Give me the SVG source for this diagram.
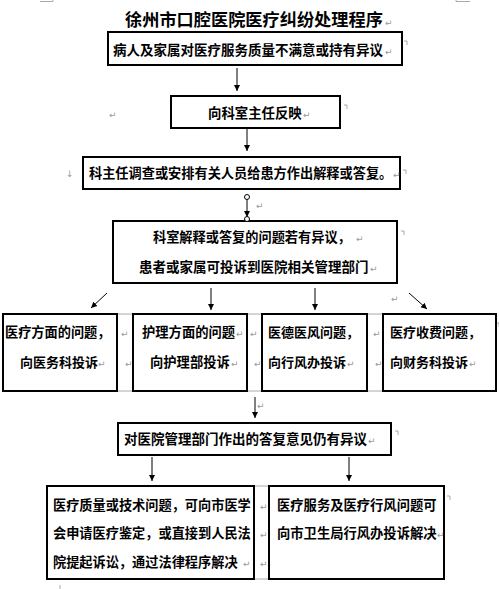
<svg xmlns="http://www.w3.org/2000/svg" width="499" height="589" viewBox="0 0 499 589">
<style>
.box{fill:#fff;stroke:#000;stroke-width:2}
.t{font-family:"Noto Sans CJK SC","Noto Sans CJK JP",sans-serif;font-weight:bold;fill:#000}
.pm{font-family:"DejaVu Sans",sans-serif;font-size:9px;fill:#999}
.ln{stroke:#000;stroke-width:1;fill:none}
.gr{stroke:#aaa;stroke-width:1;fill:none}
</style>
<defs>
<marker id="ah" viewBox="0 0 10 10" refX="10" refY="5" markerWidth="6" markerHeight="7" orient="auto" markerUnits="userSpaceOnUse">
<path d="M0,0 L10,5 L0,10 z" fill="#000"/>
</marker>
</defs>
<rect width="499" height="589" fill="#fff"/>
<g id="marks">
<polyline class="gr" points="40,1.5 53,1.5 53,0"/>
<polyline class="gr" points="456,0 456,1.5 470,1.5"/>
<polyline class="gr" points="404,41 407,41 407,45"/>
<polyline class="gr" points="344,105 347,105 347,109"/>
<polyline class="gr" points="403,170 406,170 406,174"/>
<polyline class="gr" points="401,231 404,231 404,235"/>
<polyline class="gr" points="496,323 499,323 499,327"/>
<polyline class="gr" points="395,431 398,431 398,435"/>
<polyline class="gr" points="447,496 450,496 450,500"/>
<line class="gr" x1="60" y1="585" x2="60" y2="589"/>
</g>
<g id="title"><text class="t" x="125" y="26" font-size="17.2">徐州市口腔医院医疗纠纷处理程序</text><text class="pm" x="385" y="26">↵</text></g>
<g id="n1"><rect class="box" x="108" y="32" width="294" height="33"/><text class="t" x="113" y="55" font-size="13.5">病人及家属对医疗服务质量不满意或持有异议</text><text class="pm" x="385" y="55">↵</text></g>
<g id="n2"><rect class="box" x="171" y="96" width="169" height="32"/><text class="t" x="208" y="118" font-size="13.4">向科室主任反映</text><text class="pm" x="303" y="118">↵</text><text class="pm" x="109" y="118">↵</text></g>
<g id="n3"><rect class="box" x="83" y="157" width="317" height="32"/><text class="t" x="89" y="178" font-size="13.2">科主任调查或安排有关人员给患方作出解释或答复。</text><text class="pm" x="393" y="178">↵</text><text class="pm" x="66" y="177">↓</text></g>
<g id="n4"><rect class="box" x="113" y="221" width="284" height="62"/><text class="t" x="153" y="242" font-size="13.2">科室解释或答复的问题若有异议，</text><text class="pm" x="356" y="242">↵</text><text class="t" x="139" y="272" font-size="13.5">患者或家属可投诉到医院相关管理部门</text><text class="pm" x="370" y="272">↵</text></g>
<g id="row-borders">
<line class="gr" x1="117" y1="314" x2="133" y2="314"/><line class="gr" x1="117" y1="391" x2="133" y2="391"/>
<line class="gr" x1="247" y1="314" x2="262" y2="314"/><line class="gr" x1="247" y1="391" x2="262" y2="391"/>
<line class="gr" x1="367" y1="314" x2="383" y2="314"/><line class="gr" x1="367" y1="391" x2="383" y2="391"/>
<line class="gr" x1="254" y1="486" x2="269" y2="486"/><line class="gr" x1="254" y1="579" x2="269" y2="579"/>
<text class="pm" x="121" y="337">↵</text><text class="pm" x="125" y="367">↵</text>
<text class="pm" x="250" y="337">↵</text><text class="pm" x="254" y="367">↵</text>
<text class="pm" x="373" y="337">↵</text><text class="pm" x="375" y="367">↵</text>
<text class="pm" x="260" y="510">↵</text><text class="pm" x="260" y="538">↵</text><text class="pm" x="260" y="567">↵</text>
</g>
<g id="nA"><rect class="box" x="3" y="314" width="114" height="77"/><text class="t" x="5" y="337" font-size="13.2">医疗方面的问题，</text><text class="t" x="20" y="367" font-size="13">向医务科投诉</text><text class="pm" x="98" y="367">↵</text></g>
<g id="nB"><rect class="box" x="133" y="314" width="114" height="77"/><text class="t" x="142" y="337" font-size="13.3">护理方面的问题</text><text class="pm" x="236" y="337">↵</text><text class="t" x="150" y="367" font-size="13.3">向护理部投诉</text><text class="pm" x="231" y="367">↵</text></g>
<g id="nC"><rect class="box" x="262" y="314" width="105" height="77"/><text class="t" x="268" y="337" font-size="13">医德医风问题，</text><text class="t" x="268" y="367" font-size="13">向行风办投诉</text><text class="pm" x="347" y="367">↵</text></g>
<g id="nD"><rect class="box" x="383" y="314" width="113" height="77"/><text class="t" x="390" y="337" font-size="13">医疗收费问题，</text><text class="t" x="390" y="367" font-size="13">向财务科投诉</text><text class="pm" x="469" y="367">↵</text></g>
<g id="n5"><rect class="box" x="118" y="423" width="273" height="32"/><text class="t" x="124" y="444" font-size="13.5">对医院管理部门作出的答复意见仍有异议</text><text class="pm" x="368" y="444">↵</text></g>
<g id="n6"><rect class="box" x="47" y="486" width="207" height="93"/><text class="t" x="53" y="510" font-size="13.2">医疗质量或技术问题，可向市医学</text><text class="t" x="53" y="538" font-size="13.2">会申请医疗鉴定，或直接到人民法</text><text class="t" x="53" y="567" font-size="13.2">院提起诉讼，通过法律程序解决</text><text class="pm" x="243" y="567">↵</text></g>
<g id="n7"><rect class="box" x="269" y="486" width="175" height="93"/><text class="t" x="277" y="510" font-size="13.3">医疗服务及医疗行风问题可</text><text class="t" x="277" y="538" font-size="13.3">向市卫生局行风办投诉解决</text><text class="pm" x="437" y="538">↵</text></g>
<g id="connectors">
<line class="ln" x1="237" y1="68" x2="237" y2="91" marker-end="url(#ah)"/>
<line class="ln" x1="247" y1="128" x2="247" y2="151" marker-end="url(#ah)"/>
<line class="ln" x1="247" y1="199.5" x2="247" y2="217" marker-end="url(#ah)"/>
<circle cx="247" cy="197" r="2.5" fill="#fff" stroke="#000" stroke-width="1"/>
<circle cx="247" cy="219" r="2.5" fill="#fff" stroke="#000" stroke-width="1"/>
<text class="pm" x="256" y="209">↵</text>
<line class="ln" x1="107" y1="293" x2="91" y2="308" marker-end="url(#ah)"/>
<line class="ln" x1="211" y1="288" x2="211" y2="310" marker-end="url(#ah)"/>
<line class="ln" x1="315" y1="288" x2="315" y2="310" marker-end="url(#ah)"/>
<line class="ln" x1="409" y1="293" x2="427" y2="309" marker-end="url(#ah)"/>
<text class="pm" x="391" y="302">↵</text>
<line class="ln" x1="255" y1="397" x2="255" y2="418" marker-end="url(#ah)"/>
<text class="pm" x="257" y="409">↵</text>
<line class="ln" x1="152" y1="457" x2="152" y2="481" marker-end="url(#ah)"/>
<line class="ln" x1="349" y1="457" x2="349" y2="481" marker-end="url(#ah)"/>
</g>
</svg>
